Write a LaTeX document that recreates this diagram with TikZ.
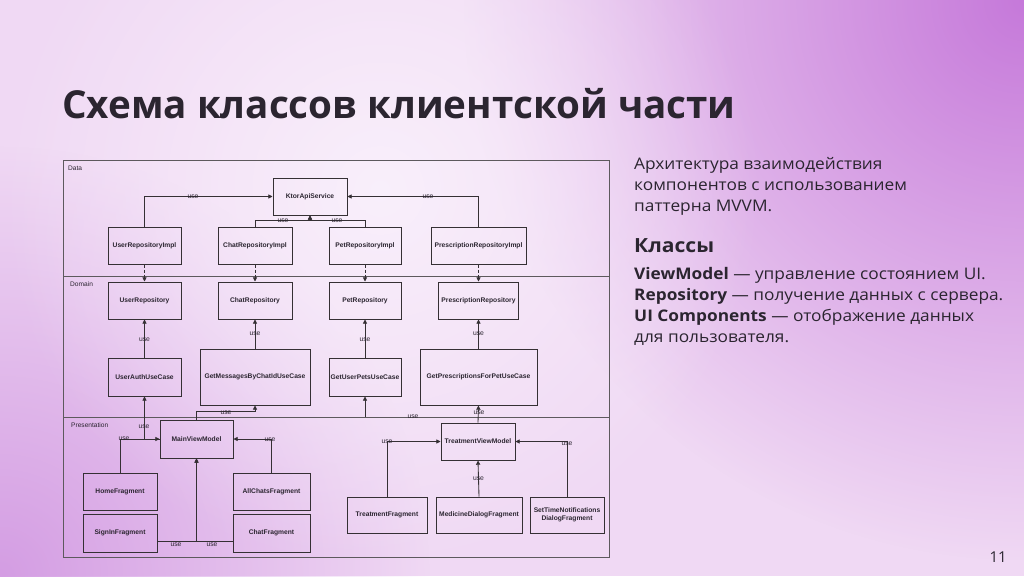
\documentclass[tikz,border=0pt]{standalone}
\usepackage{fontspec}
\setmainfont{Open Sans}
\newfontfamily\body[FakeStretch=1.08]{Open Sans}
\newfontfamily\diag{Liberation Sans}
\usetikzlibrary{arrows.meta,fadings}
\definecolor{ink}{HTML}{2B2530}
\definecolor{ln}{HTML}{353034}
\definecolor{bgbase}{HTML}{F0D9F4}
\definecolor{purA}{HTML}{C679DA}
\definecolor{purB}{HTML}{D49DE3}
\definecolor{lite}{HTML}{FAF2FC}
\tikzfading[name=glow, inner color=transparent!0, outer color=transparent!100]
\tikzset{
  cls/.style={draw=ln, line width=1pt, font=\diag\bfseries\fontsize{6.7}{8}\selectfont, text=ink, inner sep=0pt, align=center},
  lab/.style={font=\diag\fontsize{6.8}{7.5}\selectfont, text=ink, inner sep=0.5pt},
  usearrow/.style={draw=ln, line width=0.85pt, -{Triangle[length=4.2pt,width=4.2pt]}},
  implarrow/.style={draw=ln, line width=0.85pt, dash pattern=on 3pt off 2pt, -{Triangle[length=4.2pt,width=4.2pt]}},
  frame/.style={draw=ln!80, line width=0.75pt},
  lane/.style={font=\diag\fontsize{6.6}{7.5}\selectfont, text=ink, anchor=west, inner sep=0pt},
  txt/.style={anchor=base west, inner sep=0pt, text=ink, font=\body\fontsize{16}{21}\selectfont}
}
\begin{document}
\begin{tikzpicture}[x=1pt,y=-1pt]
\useasboundingbox (0,0) rectangle (1024,576);
% background
\fill[bgbase] (0,0) rectangle (1024,576);
\begin{scope}
\clip (0,0) rectangle (1024,576);
\fill[purA, path fading=glow] (1024,0) circle (560pt);
\fill[purB, path fading=glow] (0,576) circle (430pt);
\fill[lite, path fading=glow, fill opacity=0.9] (380,190) circle (380pt);
\end{scope}

% title
\node[anchor=base west, inner sep=0pt, text=ink, font=\bfseries\fontsize{38.6}{44}\selectfont] (title) at (62,118) {Схема классов клиентской части};

% right text
\node[txt] (i1) at (634,169) {Архитектура взаимодействия};
\node[txt] (i2) at (634,190) {компонентов с использованием};
\node[txt] (i3) at (634,211) {паттерна MVVM.};
\node[txt, font=\body\bfseries\fontsize{19.5}{22}\selectfont] (classes) at (634,252) {Классы};
\node[txt] (d1) at (634,279) {\textbf{ViewModel} — управление состоянием UI.};
\node[txt] (d2) at (634,300) {\textbf{Repository} — получение данных с сервера.};
\node[txt] (d3) at (634,321) {\textbf{UI Components} — отображение данных};
\node[txt] (d4) at (634,342) {для пользователя.};
\node[anchor=base east, inner sep=0pt, text=ink, font=\fontsize{15}{18}\selectfont] (pnum) at (1007,562) {11};

% frame and lanes
\draw[frame] (63,160) rectangle (609,557);
\draw[frame] (63,276) -- (609,276);
\draw[frame] (63,417) -- (609,417);
\node[lane] (ldata) at (68,168) {Data};
\node[lane] (ldom) at (70,284) {Domain};
\node[lane] (lpres) at (71,425) {Presentation};

% Data
\node[cls, minimum width=74pt, minimum height=37pt] (kt) at (310,196.5) {KtorApiService};
\node[cls, minimum width=73pt, minimum height=37pt] (uri) at (144.5,245.5) {UserRepositoryImpl};
\node[cls, minimum width=74pt, minimum height=37pt] (cri) at (255,245.5) {ChatRepositoryImpl};
\node[cls, minimum width=72pt, minimum height=37pt] (pri) at (365,245.5) {PetRepositoryImpl};
\node[cls, minimum width=95pt, minimum height=37pt] (xri) at (478.5,245.5) {PrescriptionRepositoryImpl};

% Domain
\node[cls, minimum width=73pt, minimum height=37pt] (ur) at (144.5,300.5) {UserRepository};
\node[cls, minimum width=74pt, minimum height=37pt] (cr) at (255,300.5) {ChatRepository};
\node[cls, minimum width=72pt, minimum height=37pt] (pr) at (365,300.5) {PetRepository};
\node[cls, minimum width=80pt, minimum height=37pt] (xr) at (478.5,300.5) {PrescriptionRepository};
\node[cls, minimum width=73pt, minimum height=38pt] (uauc) at (144.5,377) {UserAuthUseCase};
\node[cls, minimum width=110pt, minimum height=56pt] (gm) at (255,377) {GetMessagesByChatIdUseCase};
\node[cls, minimum width=72pt, minimum height=38pt] (gp) at (365,377) {GetUserPetsUseCase};
\node[cls, minimum width=117pt, minimum height=56pt] (gpp) at (478.5,377) {GetPrescriptionsForPetUseCase};

% Presentation
\node[cls, minimum width=73pt, minimum height=38pt] (mvm) at (196.5,439) {MainViewModel};
\node[cls, minimum width=74pt, minimum height=37pt] (home) at (120,491.5) {HomeFragment};
\node[cls, minimum width=74pt, minimum height=38pt] (signin) at (120,533) {SignInFragment};
\node[cls, minimum width=77pt, minimum height=37pt] (allc) at (271.5,491.5) {AllChatsFragment};
\node[cls, minimum width=77pt, minimum height=38pt] (chatf) at (271.5,533) {ChatFragment};
\node[cls, minimum width=74pt, minimum height=37pt] (tvm) at (478,441.5) {TreatmentViewModel};
\node[cls, minimum width=80pt, minimum height=36pt] (tf) at (387,515) {TreatmentFragment};
\node[cls, minimum width=86pt, minimum height=36pt] (med) at (479,515) {MedicineDialogFragment};
\node[cls, minimum width=74pt, minimum height=36pt] (stn) at (567,515) {SetTimeNotifications\\DialogFragment};

% Data connectors
\draw[usearrow] (uri.north) |- (kt.west);
\node[lab] (l1) at (193,197) {use};
\draw[usearrow] (xri.north) |- (kt.east);
\node[lab] (l2) at (428,197) {use};
\draw[usearrow] (cri.north) -- ++(0,-6) -| (kt.south);
\node[lab] (l3) at (283,221) {use};
\draw[usearrow] (pri.north) -- ++(0,-6) -| (kt.south);
\node[lab] (l4) at (337,221) {use};

% implementation
\draw[implarrow] (uri.south) -- (ur.north);
\draw[implarrow] (cri.south) -- (cr.north);
\draw[implarrow] (pri.south) -- (pr.north);
\draw[implarrow] (xri.south) -- (xr.north);

% Domain connectors
\draw[usearrow] (uauc.north) -- (ur.south) node[lab, pos=0.48] {use};
\draw[usearrow] (gm.north) -- (cr.south) node[lab, midway] {use};
\draw[usearrow] (gp.north) -- (pr.south) node[lab, pos=0.48] {use};
\draw[usearrow] (gpp.north) -- (xr.south) node[lab, midway] {use};

% Presentation to Domain
\draw[usearrow] (mvm.north) -- ++(0,-8) -| (gm.south);
\node[lab] (l5) at (226,412.5) {use};
\coordinate (sep) at (365,417);
\draw[usearrow] (sep) -- (gp.south);
\node[lab] (l6) at (413,417) {use};
\draw[usearrow] (tvm.north) -- (gpp.south);
\node[lab] (l7) at (479,413) {use};
\draw[usearrow] (mvm.west) -| (uauc.south);
\node[lab] (l8) at (144,427) {use};

% Presentation internal
\draw[usearrow] (home.north) |- (mvm.west);
\node[lab] (l9) at (124,439) {use};
\draw[usearrow] (allc.north) |- (mvm.east);
\node[lab] (l10) at (270,440) {use};
\draw[usearrow] ([yshift=-8pt]signin.east) -| (mvm.south);
\node[lab] (l11) at (176,544.5) {use};
\draw[usearrow] ([yshift=-8pt]chatf.west) -| (mvm.south);
\node[lab] (l12) at (212,544.5) {use};
\draw[usearrow] (tf.north) |- (tvm.west);
\node[lab] (l13) at (387,442) {use};
\draw[usearrow] (stn.north) |- (tvm.east);
\node[lab] (l14) at (567,444) {use};
\draw[usearrow] (med.north) -- (tvm.south) node[lab, midway] {use};
\end{tikzpicture}
\end{document}
